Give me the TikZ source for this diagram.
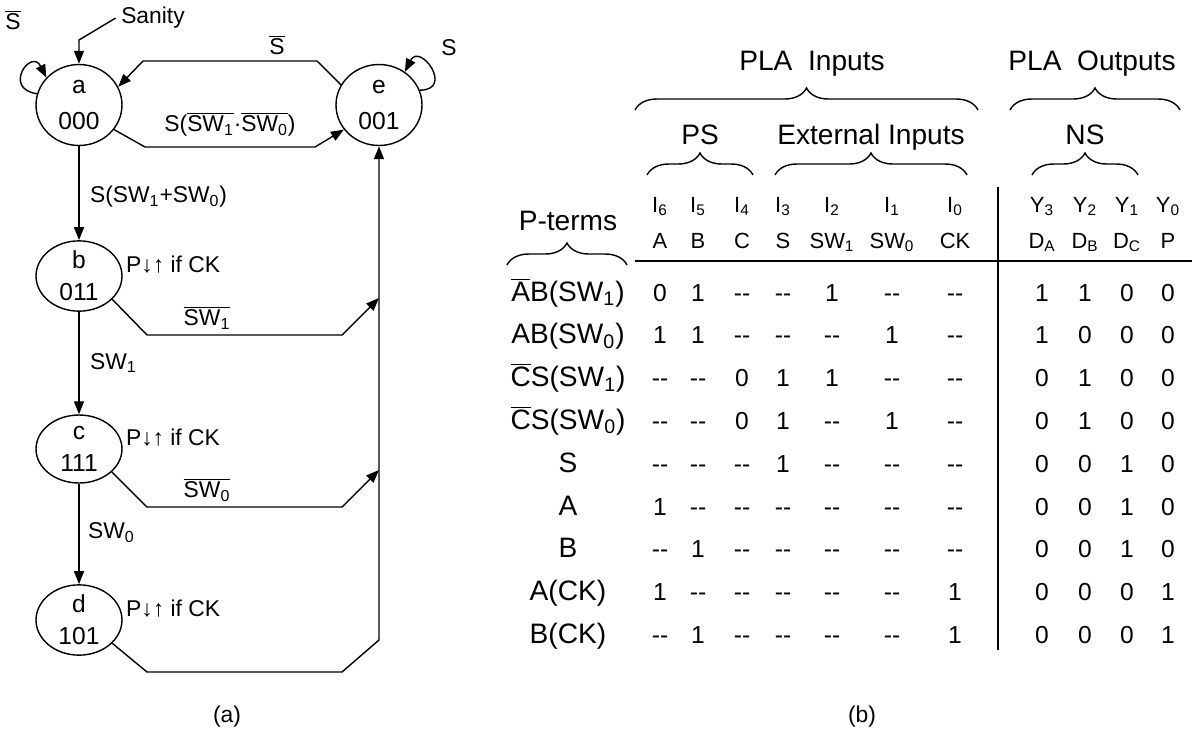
\documentclass[tikz,border=0pt]{standalone}
\usepackage{fontspec}
\setmainfont{Liberation Sans}
\usetikzlibrary{arrows.meta,positioning,shapes.geometric,decorations.pathreplacing}
\newcommand{\ol}[1]{\ensuremath{\overline{\mbox{#1}}}}
\newcommand{\nd}{-{}-}
\tikzset{
  state/.style    ={ellipse, draw, line width=.8pt, minimum width=1.72cm, minimum height=1.36cm,
                    inner sep=0pt, align=center, font=\fontsize{14}{16}\selectfont},
  bigstate/.style ={state, minimum height=1.62cm},
  lbl/.style      ={font=\fontsize{13}{15}\selectfont, inner sep=1pt},
  arr/.style      ={-{Triangle[length=2.6mm,width=2mm]}, line width=.8pt},
  brc/.style      ={decorate, decoration={brace, amplitude=0.44cm}, line width=.8pt},
  ttl/.style      ={font=\fontsize{16}{18}\selectfont, inner sep=0pt, anchor=base},
  hdr/.style      ={font=\fontsize{12.5}{14}\selectfont, inner sep=0pt, anchor=base},
  tlab/.style     ={font=\fontsize{16}{18}\selectfont, inner sep=0pt, anchor=base},
  tval/.style     ={font=\fontsize{14}{16}\selectfont, inner sep=0pt, anchor=base},
  rule/.style     ={line width=1pt},
}
\begin{document}
\begin{tikzpicture}[x=0.02cm, y=-0.02cm]
  \useasboundingbox (0,0) rectangle (1194,731);

  % (a) state diagram
  \node[bigstate] (a) at (79,105)  {a\\[5pt]000};
  \node[bigstate] (e) at (379,105) {e\\[5pt]001};
  \node[state]    (b) at (79,276)  {b\\[2pt]011};
  \node[state]    (c) at (79,449)  {c\\[2pt]111};
  \node[state]    (d) at (79,620)  {d\\[2pt]101};

  \node[lbl,anchor=west] (pb) at ([xshift=2pt]b.15) {P↓↑ if CK};
  \node[lbl,anchor=west] (pc) at ([xshift=2pt]c.15) {P↓↑ if CK};
  \node[lbl,anchor=west] (pd) at ([xshift=2pt]d.15) {P↓↑ if CK};

  \coordinate (sk) at (79,40);
  \coordinate (jb) at (379,298);
  \coordinate (jc) at (379,470);

  \node[lbl,inner sep=3pt] (san) at (153,18) {Sanity};
  \draw[arr] (san.west) -- (sk) -- (a);

  \draw[arr] (a.165) .. controls +(-35,-5) and +(-15,-30) .. (a.140);
  \node[lbl] (ls1) at (13,20) {\ol{S}};
  \draw[arr] (e.20) .. controls +(35,0) and +(15,-30) .. (e.52);
  \node[lbl] (ls2) at (449,48) {S};

  \draw[arr] (e.152) -- (317,61) -- (143,61) -- (a.25);
  \node[lbl] (ls3) at (277,45) {\ol{S}};
  \draw[arr] (a.-35) -- (145,147) -- (315,147) -- (e.-145);
  \node[lbl] (ls4) at (230,124) {S(\ol{SW\textsubscript{1}}·\ol{SW\textsubscript{0}})};

  \draw[arr] (a) -- (b);
  \node[lbl,anchor=west] (ls5) at (88,197) {S(SW\textsubscript{1}+SW\textsubscript{0})};
  \draw[arr] (b) -- (c);
  \node[lbl,anchor=west] (ls6) at (88,363) {SW\textsubscript{1}};
  \draw[arr] (c) -- (d);
  \node[lbl,anchor=west] (ls7) at (86,533) {SW\textsubscript{0}};

  \draw[arr] (b.-35) -- (147,335) -- (342,335) -- (jb);
  \node[lbl] (ls8) at (207,318) {\ol{SW\textsubscript{1}}};
  \draw[arr] (c.-35) -- (147,507) -- (342,507) -- (jc);
  \node[lbl] (ls9) at (207,490) {\ol{SW\textsubscript{0}}};
  \draw[arr] (d.-35) -- (147,672) -- (342,672) -- (379,640) -- (e);

  \node[lbl] (capa) at (227,717) {(a)};

  % (b) PLA table
  \node[ttl] (tin)  at (812,70)  {PLA~~Inputs};
  \node[ttl] (tout) at (1092,70) {PLA~~Outputs};
  \node[ttl] (tps)  at (700,144) {PS};
  \node[ttl] (text) at (871,144) {External Inputs};
  \node[ttl] (tns)  at (1085,144) {NS};
  \draw[brc] (635,110) -- (978,110);
  \draw[brc] (1010,110) -- (1180,110);
  \draw[brc] (647,175) -- (753,175);
  \draw[brc] (775,175) -- (967,175);
  \draw[brc] (1032,175) -- (1138,175);

  \node[tlab] (pt) at (568,230) {P-terms};
  \draw[brc] (507,265) -- (627,265);

  \foreach \cx/\ti/\bt [count=\cl] in {660/I\textsubscript{6}/A, 698/I\textsubscript{5}/B,
      742/I\textsubscript{4}/C, 783/I\textsubscript{3}/S, 832/I\textsubscript{2}/SW\textsubscript{1},
      892/I\textsubscript{1}/SW\textsubscript{0}, 955/I\textsubscript{0}/CK,
      1042/Y\textsubscript{3}/D\textsubscript{A}, 1085/Y\textsubscript{2}/D\textsubscript{B},
      1127/Y\textsubscript{1}/D\textsubscript{C}, 1168/Y\textsubscript{0}/P}{
    \node[hdr] (ti\cl) at (\cx,212) {\ti};
    \node[hdr] (tb\cl) at (\cx,248) {\bt};
  }

  \draw[rule] (635,261) -- (1192,261);
  \draw[rule] (998,187) -- (998,650);

  \foreach \lab/\vals [count=\rw] in {
      {\ol{A}B(SW\textsubscript{1})}/{0,1,\nd,\nd,1,\nd,\nd,1,1,0,0},
      {AB(SW\textsubscript{0})}/{1,1,\nd,\nd,\nd,1,\nd,1,0,0,0},
      {\ol{C}S(SW\textsubscript{1})}/{\nd,\nd,0,1,1,\nd,\nd,0,1,0,0},
      {\ol{C}S(SW\textsubscript{0})}/{\nd,\nd,0,1,\nd,1,\nd,0,1,0,0},
      {S}/{\nd,\nd,\nd,1,\nd,\nd,\nd,0,0,1,0},
      {A}/{1,\nd,\nd,\nd,\nd,\nd,\nd,0,0,1,0},
      {B}/{\nd,1,\nd,\nd,\nd,\nd,\nd,0,0,1,0},
      {A(CK)}/{1,\nd,\nd,\nd,\nd,\nd,1,0,0,0,1},
      {B(CK)}/{\nd,1,\nd,\nd,\nd,\nd,1,0,0,0,1}}{
    \pgfmathsetmacro\ry{301+42.8*(\rw-1)}
    \node[tlab] (p\rw) at (568,\ry) {\lab};
    \foreach \v [count=\cl] in \vals {
      \pgfmathsetmacro\vx{{660,698,742,783,832,892,955,1042,1085,1127,1168}[\cl-1]}
      \node[tval] (v\rw-\cl) at (\vx,\ry) {\v};
    }
  }

  \node[lbl] (capb) at (862,717) {(b)};
\end{tikzpicture}
\end{document}
